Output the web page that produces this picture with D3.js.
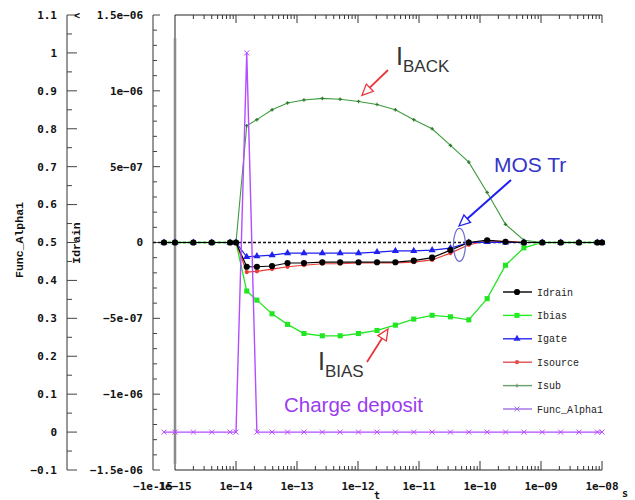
<!DOCTYPE html>
<meta charset="utf-8">
<style>
body { margin: 0; background: #fff; }
svg { display: block; }
.tick-label { font-family: "DejaVu Sans Mono", monospace; font-weight: bold; font-size: 11px; fill: #111; }
.axis-title { font-family: "Liberation Mono", monospace; font-weight: bold; font-size: 11.5px; fill: #111; }
.legend text { font-family: "Liberation Mono", monospace; font-size: 10px; fill: #222; }
.note { font-family: "Liberation Sans", Arial, sans-serif; }
</style>
<svg width="635" height="500"></svg>
<script src="https://cdn.jsdelivr.net/npm/d3@7"></script>
<script>
// time points (s)
const times = [0, 1e-15, 2e-15, 4e-15, 8e-15, 1e-14,
  1.5e-14, 2.2e-14, 3.9e-14, 7e-14, 1.3e-13, 2.6e-13, 5.1e-13, 1.02e-12,
  2.05e-12, 4.1e-12, 8.2e-12, 1.64e-11, 3.28e-11, 6.55e-11, 1.31e-10, 2.62e-10,
  5.24e-10, 1.05e-9, 2.1e-9, 4.19e-9, 8.39e-9, 1e-8];

// currents (A)
const idrain = [0, 0, 0, 0, 0, 0,
  -1.6e-7, -1.6e-7, -1.55e-7, -1.35e-7, -1.35e-7, -1.3e-7, -1.3e-7, -1.3e-7,
  -1.3e-7, -1.3e-7, -1.2e-7, -1.0e-7, -0.5e-7, 0, 0.15e-7, 0.05e-7,
  0, 0, 0, 0, 0, 0];
const ibias = [0, 0, 0, 0, 0, 0,
  -3.2e-7, -3.8e-7, -4.7e-7, -5.4e-7, -6.0e-7, -6.15e-7, -6.15e-7, -6.0e-7,
  -5.8e-7, -5.45e-7, -5.05e-7, -4.8e-7, -4.9e-7, -5.1e-7, -3.7e-7, -1.5e-7,
  -0.35e-7, 0, 0, 0, 0, 0];
const igate = [0, 0, 0, 0, 0, 0,
  -0.95e-7, -0.9e-7, -0.83e-7, -0.7e-7, -0.7e-7, -0.7e-7, -0.7e-7, -0.7e-7,
  -0.63e-7, -0.55e-7, -0.55e-7, -0.5e-7, -0.37e-7, 0, 0.03e-7, 0,
  0, 0, 0, 0, 0, 0];
const isource = [0, 0, 0, 0, 0, 0,
  -1.95e-7, -1.9e-7, -1.75e-7, -1.6e-7, -1.5e-7, -1.4e-7, -1.4e-7, -1.35e-7,
  -1.35e-7, -1.35e-7, -1.3e-7, -1.15e-7, -0.7e-7, -0.15e-7, 0.1e-7, 0.08e-7,
  0, 0, 0, 0, 0, 0];
const isub = [0, 0, 0, 0, 0, 0,
  7.7e-7, 8.1e-7, 8.75e-7, 9.2e-7, 9.4e-7, 9.5e-7, 9.45e-7, 9.3e-7,
  9.1e-7, 8.75e-7, 8.1e-7, 7.5e-7, 6.4e-7, 5.3e-7, 3.3e-7, 1.2e-7,
  0.15e-7, 0, 0, 0, 0, 0];
// Func_Alpha1 (dimensionless)
const alpha = [0, 0, 0, 0, 0, 0, 1, 0, 0, 0, 0, 0, 0, 0,
  0, 0, 0, 0, 0, 0, 0, 0, 0, 0, 0, 0, 0, 0];

const alphaTicks = [-0.1, 0, 0.1, 0.2, 0.3, 0.4, 0.5, 0.6, 0.7, 0.8, 0.9, 1, 1.1];
const currentTicks = [-1.5e-6, -1e-6, -5e-7, 0, 5e-7, 1e-6, 1.5e-6];
const currentLabels = ["-1.5e-06", "-1e-06", "-5e-07", "0", "5e-07", "1e-06", "1.5e-06"];
const decades = [1e-15, 1e-14, 1e-13, 1e-12, 1e-11, 1e-10, 1e-9, 1e-8];
const decadeLabels = ["1e-15", "1e-14", "1e-13", "1e-12", "1e-11", "1e-10", "1e-09", "1e-08"];

const svg = d3.select("svg");
const yTop = 15, yBot = 470;

// x: linear piece around zero, log piece after 1e-15
const xLin = d3.scaleLinear().domain([-1e-15, 1e-15]).range([153, 175]);
const xLog = d3.scaleLog().domain([1e-15, 1e-8]).range([175, 602]);
const x = t => t < 1e-15 ? xLin(t) : xLog(t);

const yA = d3.scaleLinear().domain([-0.1, 1.1]).range([yBot, yTop]);
const yI = d3.scaleLinear().domain([-1.5e-6, 1.5e-6]).range([yBot, yTop]);

// ---- Func_Alpha1 axis
const gA = svg.append("g");
gA.append("line").attr("x1", 67).attr("x2", 67).attr("y1", yTop).attr("y2", yBot).attr("stroke", "#333");
d3.range(-2, 23, 1).forEach(k => {
  const v = k * 0.05;
  gA.append("line").attr("x1", 67).attr("x2", k % 2 == 0 ? 77 : 72)
    .attr("y1", yA(v)).attr("y2", yA(v)).attr("stroke", "#444");
});
gA.selectAll("text").data(alphaTicks).enter().append("text")
  .attr("class", "tick-label").attr("x", 57).attr("y", d => yA(d)).attr("dy", "0.35em")
  .attr("text-anchor", "end").text(d => String(d).replace("-", "−"));
gA.append("text").attr("class", "axis-title")
  .attr("transform", "translate(23,240) rotate(-90)").attr("text-anchor", "middle").text("Func_Alpha1");
gA.append("text").attr("class", "tick-label").attr("x", 74).attr("y", 19).style("font-size", "10px").text("<");

// ---- Idrain axis
const gI = svg.append("g");
gI.append("line").attr("x1", 153).attr("x2", 153).attr("y1", yTop).attr("y2", yBot).attr("stroke", "#333");
d3.range(-15, 16, 1).forEach(k => {
  const v = k * 1e-7;
  gI.append("line").attr("x1", 153).attr("x2", k % 5 == 0 ? 160 : 157)
    .attr("y1", yI(v)).attr("y2", yI(v)).attr("stroke", "#444");
});
gI.selectAll("text").data(currentTicks).enter().append("text")
  .attr("class", "tick-label").attr("x", 143).attr("y", d => yI(d)).attr("dy", "0.35em")
  .attr("text-anchor", "end").text((d, i) => currentLabels[i].replace("-", "−"));
gI.append("text").attr("class", "axis-title")
  .attr("transform", "translate(80,243) rotate(-90)").attr("text-anchor", "middle").text("Idrain");

// ---- frame and time axes
const gX = svg.append("g");
gX.append("line").attr("x1", 175).attr("x2", 602).attr("y1", yBot).attr("y2", yBot).attr("stroke", "#222");
gX.append("line").attr("x1", 175).attr("x2", 602).attr("y1", yTop).attr("y2", yTop).attr("stroke", "#222");
gX.append("line").attr("x1", 175).attr("x2", 175).attr("y1", yTop).attr("y2", yBot).attr("stroke", "#222");
gX.append("line").attr("x1", 175).attr("x2", 175).attr("y1", 38).attr("y2", 464)
  .attr("stroke", "#8a8a8a").attr("stroke-width", 2.5);
decades.slice(0, -1).forEach(d => {
  for (let m = 2; m <= 10; m++) {
    const px = xLog(d * m), major = m == 10;
    gX.append("line").attr("x1", px).attr("x2", px).attr("y1", yBot).attr("y2", yBot - (major ? 9 : 4)).attr("stroke", "#333");
    gX.append("line").attr("x1", px).attr("x2", px).attr("y1", yTop).attr("y2", yTop + (major ? 8 : 4)).attr("stroke", "#333");
  }
});
gX.append("text").attr("class", "tick-label").attr("x", xLin(-1e-15)).attr("y", 490)
  .attr("text-anchor", "middle").text("−1e-15");
gX.selectAll("text.dec").data(decades).enter().append("text").attr("class", "tick-label dec")
  .attr("x", d => xLog(d)).attr("y", 490).attr("text-anchor", "middle").text((d, i) => decadeLabels[i].replace("-", "−"));
gX.append("text").attr("class", "tick-label").attr("x", 377).attr("y", 499).attr("text-anchor", "middle").style("font-size", "10px").text("t");
gX.append("text").attr("class", "tick-label").attr("x", 625).attr("y", 497).attr("text-anchor", "middle").style("font-size", "10px").text("s");

// zero reference (dashed)
svg.append("line").attr("x1", 153).attr("x2", 602).attr("y1", yI(0)).attr("y2", yI(0))
  .attr("stroke", "#111").attr("stroke-width", 1.5).attr("stroke-dasharray", "3,2");

// ---- series
const series = [
  {name: "Isub", values: isub, y: yI, color: "#3f9b3f", width: 1.1, symbol: d3.symbolCross, size: 7},
  {name: "Ibias", values: ibias, y: yI, color: "#22e622", width: 1.3, symbol: d3.symbolSquare, size: 26},
  {name: "Isource", values: isource, y: yI, color: "#e63a32", width: 1.2, symbol: d3.symbolCircle, size: 14},
  {name: "Igate", values: igate, y: yI, color: "#1f1fee", width: 1.2, symbol: d3.symbolTriangle, size: 22},
  {name: "Idrain", values: idrain, y: yI, color: "#000", width: 1.2, symbol: d3.symbolCircle, size: 30},
  {name: "Func_Alpha1", values: alpha, y: yA, color: "#b44cff", width: 1.4, symbol: d3.symbolTimes || d3.symbolCross, size: 18}
];

series.forEach(s => {
  const pts = times.map((t, i) => [x(t), s.y(s.values[i])]);
  svg.append("path").attr("d", d3.line()(pts)).attr("fill", "none")
    .attr("stroke", s.color).attr("stroke-width", s.width);
  const stroked = s.name == "Func_Alpha1";
  svg.append("g").selectAll("path").data(pts).enter().append("path")
    .attr("transform", d => `translate(${d[0]},${d[1]})`)
    .attr("d", d3.symbol().type(s.symbol).size(s.size))
    .attr("fill", stroked ? "none" : (s.name == "Isub" ? "#2f7a2f" : s.color))
    .attr("stroke", stroked ? s.color : "none").attr("stroke-width", 1);
});

// ---- legend
const legendOrder = ["Idrain", "Ibias", "Igate", "Isource", "Isub", "Func_Alpha1"];
const legendColors = {Idrain: "#000", Ibias: "#22ee22", Igate: "#2a2aee", Isource: "#e05050", Isub: "#6a9e6a", Func_Alpha1: "#a070e8"};
const lg = svg.append("g").attr("class", "legend");
legendOrder.forEach((name, i) => {
  const s = series.find(d => d.name == name);
  const ly = 292 + i * 23.4;
  lg.append("line").attr("x1", 503).attr("x2", 532).attr("y1", ly).attr("y2", ly)
    .attr("stroke", legendColors[name]).attr("stroke-width", 1.4);
  const stroked = name == "Func_Alpha1";
  lg.append("path").attr("transform", `translate(517,${ly})`)
    .attr("d", d3.symbol().type(s.symbol).size(s.size))
    .attr("fill", stroked ? "none" : legendColors[name])
    .attr("stroke", stroked ? legendColors[name] : "none");
  lg.append("text").attr("x", 537).attr("y", ly + 3.5).text(name);
});

// ---- annotations
function hollowArrow(x1, y1, x2, y2, color, w) {
  const a = Math.atan2(y2 - y1, x2 - x1), L = 11, hw = 5;
  const bx = x2 - L * Math.cos(a), by = y2 - L * Math.sin(a);
  svg.append("line").attr("x1", x1).attr("y1", y1).attr("x2", bx).attr("y2", by)
    .attr("stroke", color).attr("stroke-width", w);
  const p = [[x2, y2],
    [bx + hw * Math.sin(a), by - hw * Math.cos(a)],
    [bx - hw * Math.sin(a), by + hw * Math.cos(a)]];
  svg.append("path").attr("d", "M" + p.join("L") + "Z").attr("fill", "#fff")
    .attr("stroke", color).attr("stroke-width", 1.3);
}

// I_BACK
hollowArrow(388, 70, x(1.16e-12), yI(9.7e-7), "#e8363a", 1.8);
const tb = svg.append("text").attr("class", "note").attr("x", 396).attr("y", 65).attr("fill", "#333");
tb.append("tspan").style("font-size", "25px").text("I");
tb.append("tspan").attr("dy", 7).style("font-size", "17px").text("BACK");

// MOS Tr
svg.append("ellipse").attr("cx", x(4.6e-11)).attr("cy", yI(-0.15e-7)).attr("rx", 6).attr("ry", 16.5)
  .attr("fill", "none").attr("stroke", "#6a6ad0").attr("stroke-width", 1.2);
hollowArrow(511, 180, 459, 226, "#2020ee", 2);
svg.append("text").attr("class", "note").attr("x", 494).attr("y", 172).attr("fill", "#3434c8")
  .style("font-size", "21px").text("MOS Tr");

// I_BIAS
hollowArrow(367, 362, 388, 329, "#e8363a", 1.8);
const ti = svg.append("text").attr("class", "note").attr("x", 318).attr("y", 370).attr("fill", "#333");
ti.append("tspan").style("font-size", "25px").text("I");
ti.append("tspan").attr("dy", 7).style("font-size", "17px").text("BIAS");

// Charge deposit
svg.append("text").attr("class", "note").attr("x", 284).attr("y", 412).attr("fill", "#9a3cf0")
  .style("font-size", "20.5px").text("Charge deposit");
</script>
